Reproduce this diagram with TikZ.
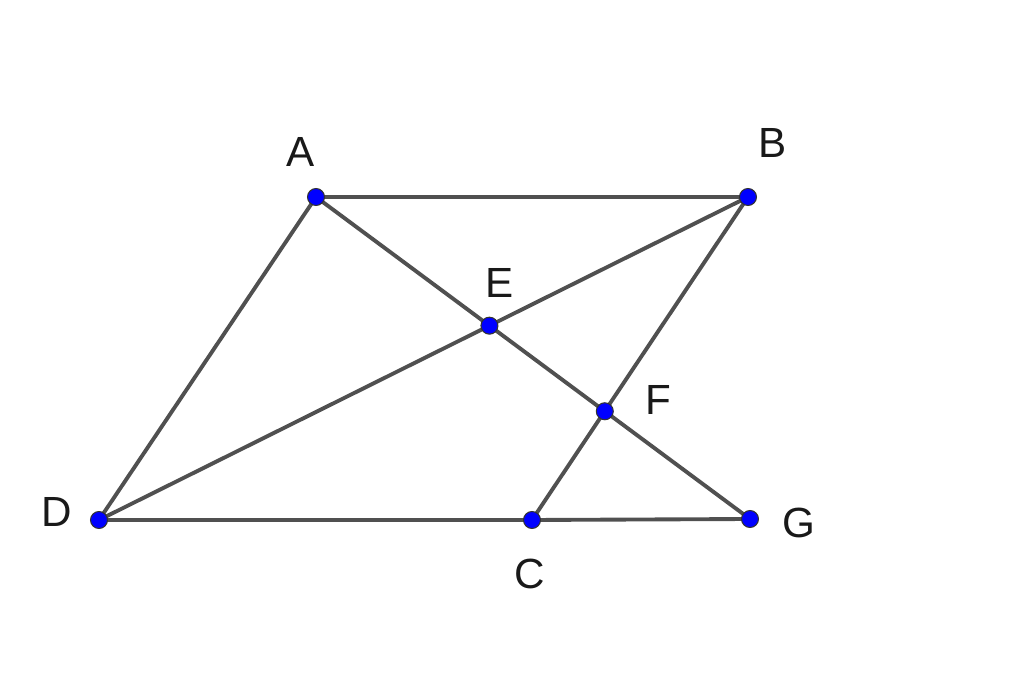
\documentclass[tikz,border=0pt]{standalone}
\usepackage{fontspec}
\setmainfont{Liberation Sans}
\definecolor{segcol}{RGB}{80,80,80}
\definecolor{ptcol}{RGB}{0,0,255}
\tikzset{
  seg/.style={draw=segcol, line width=2.2pt},
  pt/.style={circle, fill=ptcol, draw=black!80, line width=0.6pt, inner sep=0pt, minimum size=0.34cm},
  lbl/.style={font=\fontsize{24}{28}\selectfont, text=black!90}
}
\begin{document}
\begin{tikzpicture}
    \useasboundingbox (0,0) rectangle (20.48,-13.72);

    %sommets
    \coordinate (A) at (6.32,-3.94);
    \coordinate (B) at (14.96,-3.94);
    \coordinate (D) at (1.98,-10.40);
    \coordinate (C) at (10.64,-10.40);
    \coordinate (G) at (15.00,-10.38);
    \coordinate (E) at (intersection of A--G and B--D);
    \coordinate (F) at (intersection of A--G and B--C);

    %segments
    \draw[seg] (A) -- (B) -- (C) -- (D) -- cycle;
    \draw[seg] (B) -- (D);
    \draw[seg] (A) -- (G);
    \draw[seg] (C) -- (G);

    %points
    \foreach \p in {A,B,C,D,E,F,G}{
        \node[pt] (pt\p) at (\p) {};
    }

    %noms
    \node[lbl] (lA) at (6.02,-3.04) {A};
    \node[lbl] (lB) at (15.46,-2.86) {B};
    \node[lbl] (lE) at (10.00,-5.66) {E};
    \node[lbl] (lF) at (13.16,-8.00) {F};
    \node[lbl] (lD) at (1.14,-10.24) {D};
    \node[lbl] (lC) at (10.60,-11.48) {C};
    \node[lbl] (lG) at (15.98,-10.46) {G};

\end{tikzpicture}
\end{document}
